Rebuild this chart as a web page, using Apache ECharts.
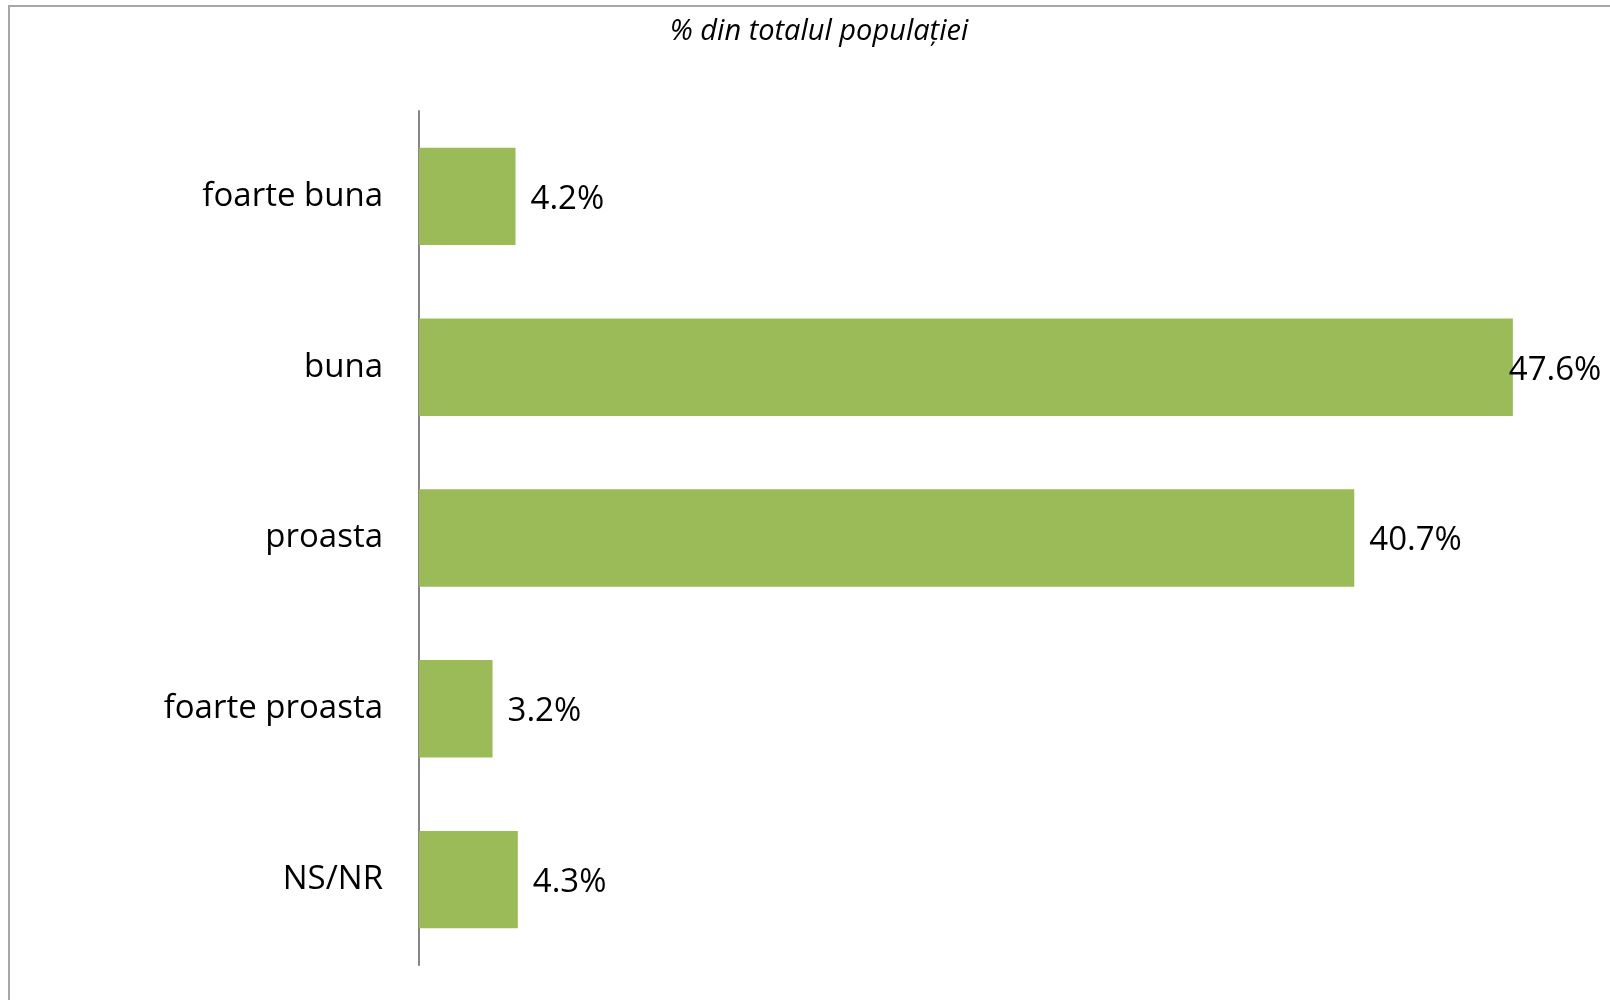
<!DOCTYPE html>
<html>
<head>
<meta charset="utf-8">
<script src="https://cdn.jsdelivr.net/npm/echarts@6/dist/echarts.min.js"></script>
<style>
  html, body { margin: 0; padding: 0; background: #fff; }
  #chart { width: 1610px; height: 1000px; }
</style>
</head>
<body>
<div id="chart"></div>
<script>
// categories, top to bottom
const categories = ['foarte buna', 'buna', 'proasta', 'foarte proasta', 'NS/NR'];
const values = [4.2, 47.6, 40.7, 3.2, 4.3];
const titleText = '% din totalul populației';

const maxValue = Math.max(...values);

const chart = echarts.init(document.getElementById('chart'), null, { renderer: 'canvas' });

const option = {
  backgroundColor: '#ffffff',
  animation: false,
  title: {
    text: titleText,
    left: 814,
    top: 12,
    textAlign: 'center',
    textStyle: {
      fontFamily: 'Open Sans',
      fontStyle: 'italic',
      fontWeight: 'normal',
      fontSize: 29,
      color: '#000'
    }
  },
  graphic: [
    {
      type: 'rect',
      shape: { x: 9, y: 6, width: 1640, height: 1100 },
      style: { fill: 'none', stroke: '#a6a6a6', lineWidth: 2 },
      silent: true
    }
  ],
  grid: {
    left: 419,
    top: 111,
    width: 1149,
    height: 854
  },
  xAxis: {
    type: 'value',
    min: 0,
    max: 50,
    show: false
  },
  yAxis: {
    type: 'category',
    inverse: true,
    data: categories,
    axisLine: { show: true, lineStyle: { color: '#868686', width: 2 } },
    axisTick: { show: false },
    axisLabel: {
      margin: 36,
      padding: [4, 0, 0, 0],
      fontFamily: 'Open Sans',
      fontSize: 33,
      color: '#000'
    }
  },
  series: [
    {
      type: 'bar',
      barCategoryGap: '43%',
      itemStyle: { color: '#9bbb59' },
      label: {
        show: true,
        position: 'right',
        distance: 15,
        offset: [0, 3],
        fontFamily: 'Open Sans',
        fontSize: 33,
        color: '#000',
        formatter: p => p.value.toFixed(1) + '%'
      },
      // the largest label sits over the bar end, as in the original
      data: values.map(v => v === maxValue ? { value: v, label: { distance: -4 } } : v)
    }
  ]
};

chart.setOption(option);
</script>
</body>
</html>
